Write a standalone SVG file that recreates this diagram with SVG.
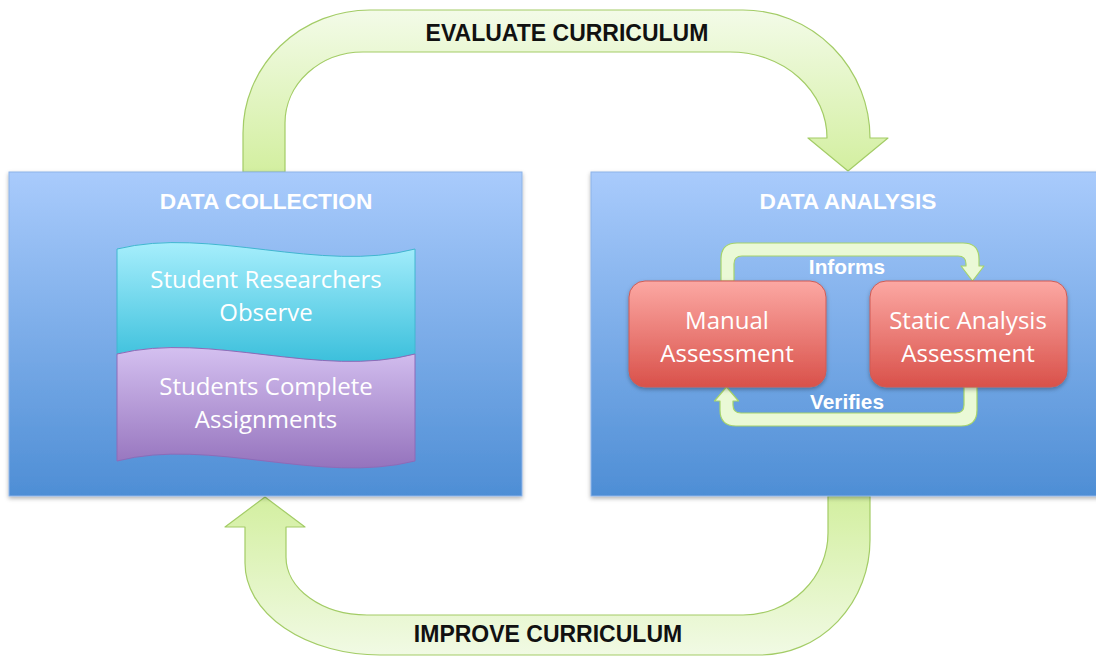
<svg xmlns="http://www.w3.org/2000/svg" width="1096" height="658" viewBox="0 0 1096 658">
  <defs>
    <linearGradient id="gPanel" x1="0" y1="0" x2="0" y2="1">
      <stop offset="0" stop-color="#a9cbfc"/>
      <stop offset="1" stop-color="#4e8ed5"/>
    </linearGradient>
    <linearGradient id="gRed" x1="0" y1="0" x2="0" y2="1">
      <stop offset="0" stop-color="#fca8a3"/>
      <stop offset="1" stop-color="#d9514a"/>
    </linearGradient>
    <linearGradient id="gCyan" x1="0" y1="0" x2="0" y2="1">
      <stop offset="0" stop-color="#a6eefc"/>
      <stop offset="1" stop-color="#3cc0dc"/>
    </linearGradient>
    <linearGradient id="gPurple" x1="0" y1="0" x2="0" y2="1">
      <stop offset="0" stop-color="#d4c0f0"/>
      <stop offset="1" stop-color="#9573bd"/>
    </linearGradient>
    <linearGradient id="gGreenDown" x1="0" y1="0" x2="0" y2="1">
      <stop offset="0" stop-color="#f3fbe8"/>
      <stop offset="1" stop-color="#d3efa0"/>
    </linearGradient>
    <linearGradient id="gGreenUp" x1="0" y1="1" x2="0" y2="0">
      <stop offset="0" stop-color="#f1fae4"/>
      <stop offset="1" stop-color="#d3efa0"/>
    </linearGradient>
    <filter id="shadow" x="-10%" y="-10%" width="120%" height="125%">
      <feDropShadow dx="0" dy="2" stdDeviation="2" flood-color="#000" flood-opacity="0.3"/>
    </filter>
    <style>
      .panel { fill: url(#gPanel); stroke: #8db3e8; stroke-width: 1; filter: url(#shadow); }
      .card { fill: url(#gRed); stroke: #cf5b54; stroke-width: 1; filter: url(#shadow); }
      .bigArrow { stroke: #a3cc66; stroke-width: 1.2; stroke-linejoin: round; }
      .smallArrow { fill: #eaf9d6; stroke: #a6d46a; stroke-width: 1.2; stroke-linejoin: round; }
      .flowLabel { font-family: "Liberation Sans", Arial, sans-serif; font-weight: bold; font-size: 23px; fill: #111; text-anchor: middle; }
      .heading { font-family: "Liberation Sans", Arial, sans-serif; font-weight: bold; font-size: 22.7px; fill: #fff; text-anchor: middle; }
      .body { font-family: "Open Sans", "Liberation Sans", sans-serif; font-size: 24px; fill: #fff; text-anchor: middle; }
      .loopLabel { font-family: "Liberation Sans", Arial, sans-serif; font-weight: bold; font-size: 20.8px; fill: #fff; text-anchor: middle; }
    </style>
  </defs>

  <!-- curved cycle arrows between the two panels -->
  <g id="connectors">
    <g id="evaluate-arrow">
      <path class="bigArrow" fill="url(#gGreenDown)"
            d="M243,172 L243,133 A127,123 0 0 1 370,10 L743,10 A127,128 0 0 1 870,138 L888,138 L848,171 L808,138 L827,138 A97,86 0 0 0 730,52 L363,52 A78,71 0 0 0 285,123 L285,172 Z"/>
      <text class="flowLabel" x="567" y="41">EVALUATE CURRICULUM</text>
    </g>
    <g id="improve-arrow">
      <path class="bigArrow" fill="url(#gGreenUp)"
            d="M828,496 L828,533 A85,82 0 0 1 743,615 L367,615 A81,58 0 0 1 286,557 L286,527 L305,527 L265,497 L225,527 L245,527 L245,563 A135,92 0 0 0 380,655 L760,655 A110,115 0 0 0 870,540 L870,496 Z"/>
      <text class="flowLabel" x="548" y="642">IMPROVE CURRICULUM</text>
    </g>
  </g>

  <!-- left panel: data collection -->
  <g id="data-collection">
    <rect class="panel" x="9" y="172" width="513" height="324"/>
    <text class="heading" x="266" y="209">DATA COLLECTION</text>
    <g id="researchers-observe">
      <path fill="url(#gCyan)" stroke="#41b6d0" stroke-width="1"
            d="M117,249 C210,226 320,274 415,249 L415,354 C320,379 210,331 117,354 Z"/>
      <text class="body" x="266" y="288">Student Researchers</text>
      <text class="body" x="266" y="321">Observe</text>
    </g>
    <g id="students-complete">
      <path fill="url(#gPurple)" stroke="#8d6bb8" stroke-width="1"
            d="M117,354 C210,331 320,379 415,354 L415,461 C320,485 210,437 117,461 Z"/>
      <text class="body" x="266" y="395">Students Complete</text>
      <text class="body" x="266" y="428">Assignments</text>
    </g>
  </g>

  <!-- right panel: data analysis -->
  <g id="data-analysis">
    <rect class="panel" x="591" y="172" width="515" height="324"/>
    <text class="heading" x="848" y="209">DATA ANALYSIS</text>
  </g>

  <!-- loop between the two assessments -->
  <g id="analysis-connectors">
    <g id="informs-arrow">
      <path class="smallArrow"
            d="M721,281 L721,259 Q721,243 737,243 L963,243 Q979,243 979,259 L979,266 L984,266 L972.5,281 L961,266 L966,266 L966,264 Q966,256 958,256 L742,256 Q734,256 734,264 L734,281 Z"/>
      <text class="loopLabel" x="847" y="274">Informs</text>
    </g>
    <g id="verifies-arrow">
      <path class="smallArrow"
            d="M964,387 L964,405 Q964,413 956,413 L741,413 Q733,413 733,405 L733,401 L738.5,401 L726.5,387 L714.5,401 L720,401 L720,410 Q720,426 736,426 L961,426 Q977,426 977,410 L977,387 Z"/>
      <text class="loopLabel" x="847" y="409">Verifies</text>
    </g>
  </g>

  <g id="manual-assessment">
    <rect class="card" x="629" y="281" width="197" height="106" rx="16"/>
    <text class="body" x="727" y="329">Manual</text>
    <text class="body" x="727" y="362">Assessment</text>
  </g>

  <g id="static-analysis-assessment">
    <rect class="card" x="870" y="281" width="197" height="106" rx="16"/>
    <text class="body" x="968" y="329">Static Analysis</text>
    <text class="body" x="968" y="362">Assessment</text>
  </g>
</svg>
